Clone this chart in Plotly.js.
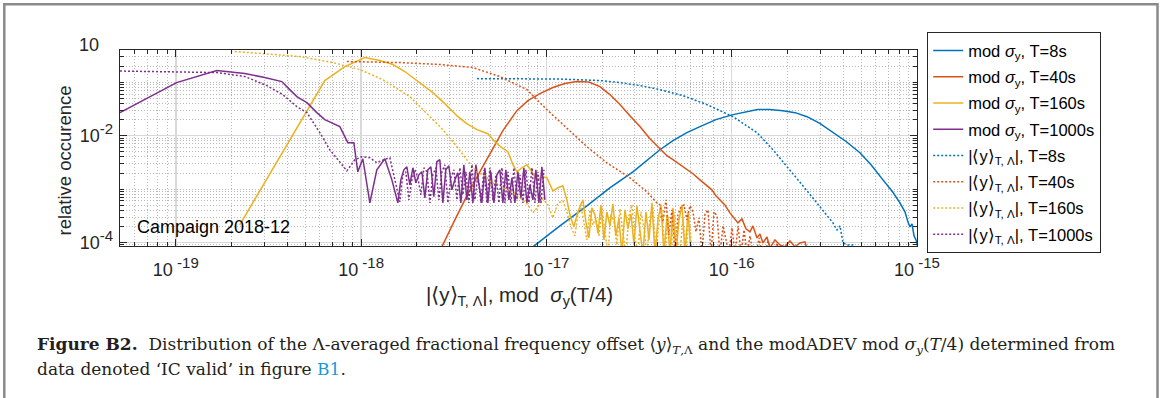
<!DOCTYPE html>
<html><head><meta charset="utf-8">
<script src="https://cdn.plot.ly/plotly-3.0.1.min.js"></script>
<style>html,body{margin:0;padding:0;background:#fff;} #chart{width:1163px;height:398px;}</style>
</head><body><div id="chart"></div>
<script>
// ---- data ----
const seriesNames = [
  'mod <i>σ</i><sub>y</sub>, T=8s', 'mod <i>σ</i><sub>y</sub>, T=40s',
  'mod <i>σ</i><sub>y</sub>, T=160s', 'mod <i>σ</i><sub>y</sub>, T=1000s',
  '|⟨y⟩<sub>T, Λ</sub>|, T=8s', '|⟨y⟩<sub>T, Λ</sub>|, T=40s',
  '|⟨y⟩<sub>T, Λ</sub>|, T=160s', '|⟨y⟩<sub>T, Λ</sub>|, T=1000s'
];
const xTickVals = [1e-19, 1e-18, 1e-17, 1e-16, 1e-15];
const xTickExp = ['-19', '-18', '-17', '-16', '-15'];
const yTickVals = [1e-4, 1e-2];
const yTickExp = ['-4', '-2'];

// mod sigma_y, T=8s
const xSig8 = [7.85e-18, 8.45e-18, 1.183e-17, 1.654e-17, 2.20e-17, 2.93e-17, 4.10e-17, 4.82e-17, 5.73e-17, 6.74e-17, 8.22e-17, 1.016e-16, 1.20e-16, 1.38e-16, 1.60e-16, 1.89e-16, 2.20e-16, 2.55e-16, 2.99e-16, 3.52e-16, 4.16e-16, 4.92e-16, 5.65e-16, 6.55e-16, 7.38e-16, 8.09e-16, 8.61e-16, 8.94e-16, 9.17e-16, 9.40e-16, 9.64e-16, 9.88e-16, 1.02e-15];
const ySig8 = [6.8e-5, 8.3e-5, 2.05e-4, 4.86e-4, 1.058e-3, 2.11e-3, 5.46e-3, 8.1e-3, 0.0114, 0.0148, 0.0200, 0.0248, 0.0282, 0.0308, 0.0308, 0.0294, 0.0270, 0.0227, 0.0170, 0.0114, 0.0077, 0.0048, 2.86e-3, 1.49e-3, 8.9e-4, 5.53e-4, 3.75e-4, 2.43e-4, 1.96e-4, 2.23e-4, 1.33e-4, 1.12e-4, 7.3e-5];

// mod sigma_y, T=40s
const xSig40 = [2.564e-18, 2.729e-18, 3.207e-18, 3.722e-18, 4.375e-18, 5.143e-18, 5.824e-18, 6.93e-18, 7.95e-18, 9.22e-18, 1.084e-17, 1.258e-17, 1.461e-17, 1.696e-17, 1.945e-17, 2.20e-17, 2.493e-17, 2.823e-17, 3.197e-17, 3.621e-17, 3.853e-17, 4.10e-17, 4.47e-17, 4.82e-17, 5.256e-17, 5.734e-17, 6.18e-17, 6.74e-17, 7.35e-17, 7.82e-17, 8.22e-17, 8.64e-17, 9.19e-17, 9.78e-17, 1.041e-16, 1.081e-16, 1.136e-16, 1.194e-16, 1.255e-16, 1.302e-16, 1.369e-16, 1.420e-16, 1.474e-16, 1.550e-16, 1.609e-16, 1.712e-16, 1.822e-16, 1.939e-16, 2.063e-16, 2.195e-16, 2.336e-16, 2.485e-16, 2.58e-16];
const ySig40 = [6.66e-5, 8.31e-5, 2.65e-4, 7.49e-4, 2.11e-3, 5.95e-3, 0.01241, 0.0294, 0.0454, 0.0614, 0.0796, 0.0945, 0.1031, 0.1009, 0.0830, 0.0588, 0.0382, 0.0237, 0.0148, 0.00879, 0.00708, 0.00570, 0.00422, 0.00355, 0.00286, 0.00230, 0.00194, 0.00149, 0.00115, 0.00097, 7.49e-4, 6.30e-4, 5.07e-4, 3.59e-4, 2.77e-4, 2.33e-4, 2.77e-4, 1.80e-4, 1.58e-4, 2.05e-4, 1.22e-4, 1.45e-4, 9.83e-5, 1.27e-4, 7.92e-5, 1.12e-4, 9.02e-5, 8.31e-5, 1.07e-4, 8.31e-5, 9.83e-5, 1.03e-4, 6.66e-5];

// mod sigma_y, T=160s
const xSig160 = [2.215e-19, 2.84e-19, 3.78e-19, 5.03e-19, 6.37e-19, 8.17e-19, 1.048e-18, 1.262e-18, 1.484e-18, 1.722e-18, 1.903e-18, 2.154e-18, 2.44e-18, 2.83e-18, 3.33e-18, 3.72e-18, 4.22e-18, 4.83e-18, 5.27e-18, 5.75e-18, 6.20e-18, 6.60e-18, 6.93e-18, 7.38e-18, 7.85e-18, 8.35e-18, 8.89e-18, 9.46e-18, 1.006e-17, 1.084e-17, 1.154e-17, 1.227e-17, 1.29e-17, 1.34e-17, 1.407e-17, 1.479e-17,
  1.574e-17, 1.634e-17, 1.696e-17, 1.760e-17, 1.827e-17, 1.897e-17, 1.969e-17, 2.044e-17, 2.121e-17, 2.202e-17, 2.286e-17, 2.373e-17, 2.463e-17, 2.557e-17, 2.654e-17, 2.755e-17, 2.859e-17, 2.968e-17, 3.081e-17, 3.198e-17, 3.320e-17, 3.446e-17, 3.577e-17, 3.713e-17, 3.854e-17, 4.001e-17, 4.153e-17, 4.311e-17, 4.475e-17, 4.645e-17, 4.822e-17, 5.005e-17, 5.195e-17, 5.393e-17, 5.598e-17, 5.811e-17, 6.032e-17, 6.261e-17];
const ySig160 = [2.14e-4, 9.29e-4, 5.01e-3, 0.0270, 0.1077, 0.197, 0.2906, 0.2553, 0.215, 0.159, 0.1225, 0.0905, 0.0641, 0.0398, 0.0227, 0.0168, 0.0130, 0.0109, 0.00772, 0.00595, 5.01e-3, 2.86e-3, 2.11e-3, 2.51e-3, 2.86e-3, 2.11e-3, 1.49e-3, 1.70e-3, 1.63e-3, 9.29e-4, 1.058e-3, 1.15e-3, 6.30e-4, 3.30e-4, 1.96e-4, 3.75e-4,
  6.30e-4, 2.43e-4, 1.22e-4, 4.46e-4, 3.30e-4, 1.51e-4, 5.07e-4, 1.12e-4, 3.75e-4, 2.05e-4, 5.30e-4, 1.33e-4, 2.89e-4, 6.0e-5, 4.09e-4, 1.80e-4, 3.44e-4, 9.42e-5, 4.86e-4, 1.65e-4, 6.0e-5, 3.75e-4, 1.12e-4, 5.53e-4, 6.0e-5, 2.65e-4, 5.07e-4, 6.0e-5, 3.30e-4, 6.0e-5, 4.46e-4, 6.0e-5, 2.65e-4, 5.07e-4, 6.0e-5, 3.75e-4, 6.0e-5, 6.0e-5];

// mod sigma_y, T=1000s
const xSig1000 = [5.0e-20, 7.24e-20, 1.01e-19, 1.665e-19, 2.358e-19, 3.02e-19, 3.735e-19, 4.12e-19, 4.50e-19, 5.10e-19, 5.77e-19, 6.37e-19, 7.68e-19, 8.48e-19, 9.14e-19, 9.60e-19, 1.022e-18, 1.115e-18, 1.216e-18, 1.343e-18, 1.466e-18,
  1.579e-18, 1.639e-18, 1.701e-18, 1.766e-18, 1.833e-18, 1.903e-18, 1.975e-18, 2.050e-18, 2.128e-18, 2.209e-18, 2.293e-18, 2.380e-18, 2.470e-18, 2.564e-18, 2.661e-18, 2.762e-18, 2.867e-18, 2.976e-18, 3.089e-18, 3.207e-18, 3.329e-18, 3.455e-18, 3.586e-18, 3.722e-18, 3.864e-18, 4.011e-18, 4.163e-18, 4.321e-18, 4.485e-18, 4.656e-18, 4.833e-18, 5.016e-18, 5.207e-18, 5.405e-18, 5.610e-18, 5.823e-18, 6.045e-18, 6.274e-18, 6.513e-18, 6.760e-18, 7.017e-18, 7.284e-18, 7.560e-18, 7.848e-18, 8.146e-18, 8.455e-18, 8.776e-18, 9.110e-18, 9.456e-18, 9.815e-18];
const ySig1000 = [0.0270, 0.0539, 0.0986, 0.166, 0.146, 0.1225, 0.1031, 0.0729, 0.0539, 0.0416, 0.0270, 0.0200, 0.0148, 0.00739, 0.00739, 2.11e-3, 3.70e-3, 5.53e-4, 2.30e-3, 3.70e-3, 1.49e-3,
  5.53e-4, 1.49e-3, 2.30e-3, 2.62e-3, 1.20e-3, 2.51e-3, 1.31e-3, 1.85e-3, 2.11e-3, 6.87e-4, 2.30e-3, 2.62e-3, 7.18e-4, 3.25e-3, 3.55e-3, 5.53e-4, 2.30e-3, 2.74e-3, 9.7e-4, 1.49e-3, 2.02e-3, 5.53e-4, 2.86e-3, 6.30e-4, 2.11e-3, 5.53e-4, 2.86e-3, 1.20e-3, 5.53e-4, 2.51e-3, 5.53e-4, 2.11e-3, 5.53e-4, 1.85e-3, 2.30e-3, 5.53e-4, 2.30e-3, 6.30e-4, 1.63e-3, 5.53e-4, 2.11e-3, 6.87e-4, 2.51e-3, 5.53e-4, 1.20e-3, 6.30e-4, 2.30e-3, 5.53e-4, 2.62e-3, 6.30e-4];

// |<y>_{T,Lambda}|, T=8s
const xAvg8 = [4.22e-18, 7.19e-18, 1.183e-17, 1.945e-17, 2.49e-17, 3.20e-17, 4.10e-17, 5.46e-17, 7.35e-17, 1.016e-16, 1.369e-16, 1.67e-16, 2.06e-16, 2.55e-16, 2.995e-16, 3.52e-16, 3.70e-16, 3.84e-16, 3.99e-16, 4.19e-16, 4.51e-16, 4.69e-16];
const yAvg8 = [0.117, 0.117, 0.1148, 0.1077, 0.0986, 0.0867, 0.0729, 0.0563, 0.0382, 0.0227, 0.0114, 5.46e-3, 2.30e-3, 9.29e-4, 4.66e-4, 2.33e-4, 1.72e-4, 2.05e-4, 9.83e-5, 9.02e-5, 9.02e-5, 6.66e-5];

// |<y>_{T,Lambda}|, T=40s
const xAvg40 = [8.38e-19, 1.115e-18, 1.619e-18, 2.66e-18, 4.01e-18, 5.61e-18, 6.60e-18, 7.85e-18, 1.006e-17, 1.29e-17, 1.654e-17, 2.12e-17, 2.823e-17, 3.49e-17, 3.95e-17,
  4.100e-17, 4.256e-17, 4.418e-17, 4.586e-17, 4.760e-17, 4.941e-17, 5.129e-17, 5.324e-17, 5.526e-17, 5.736e-17, 5.954e-17, 6.181e-17, 6.416e-17, 6.660e-17, 6.913e-17, 7.176e-17, 7.449e-17, 7.732e-17, 8.026e-17, 8.331e-17, 8.648e-17, 8.977e-17, 9.318e-17, 9.672e-17, 1.004e-16, 1.042e-16, 1.082e-16, 1.123e-16, 1.166e-16, 1.210e-16, 1.256e-16, 1.304e-16, 1.353e-16, 1.405e-16, 1.458e-16, 1.513e-16, 1.571e-16, 1.631e-16, 1.693e-16, 1.757e-16, 1.824e-16, 1.893e-16, 1.965e-16, 2.040e-16, 2.117e-16, 2.196e-16];
const yAvg40 = [0.244, 0.238, 0.234, 0.215, 0.189, 0.128, 0.0986, 0.0729, 0.0308, 0.0141, 6.22e-3, 3.11e-3, 1.63e-3, 8.89e-4, 5.53e-4,
  5.07e-4, 2.43e-4, 6.30e-4, 1.39e-4, 4.09e-4, 6.0e-5, 3.30e-4, 4.66e-4, 5.07e-4, 2.65e-4, 4.86e-4, 3.75e-4, 1.58e-4, 2.89e-4, 6.0e-5, 3.44e-4, 4.09e-4, 6.0e-5, 3.75e-4, 3.16e-4, 6.0e-5, 2.05e-4, 1.12e-4, 6.0e-5, 1.88e-4, 6.0e-5, 2.05e-4, 6.0e-5, 1.72e-4, 6.0e-5, 1.33e-4, 6.0e-5, 6.0e-5, 1.22e-4, 6.0e-5, 6.0e-5, 1.07e-4, 6.0e-5, 6.0e-5, 9.83e-5, 6.0e-5, 6.0e-5, 9.42e-5, 6.0e-5, 6.0e-5, 6.0e-5];

// |<y>_{T,Lambda}|, T=160s
const xAvg160 = [2.083e-19, 2.84e-19, 4.67e-19, 7.04e-19, 9.85e-19, 1.31e-18, 1.832e-18, 2.44e-18, 2.76e-18, 3.29e-18, 3.72e-18, 4.22e-18, 4.656e-18, 5.08e-18, 5.61e-18, 6.045e-18, 6.513e-18, 7.017e-18, 7.47e-18, 7.95e-18, 8.455e-18, 9.0e-18, 9.57e-18, 1.019e-17, 1.084e-17, 1.154e-17, 1.227e-17, 1.29e-17, 1.356e-17,
  1.425e-17, 1.479e-17, 1.535e-17, 1.594e-17, 1.654e-17, 1.717e-17, 1.782e-17, 1.850e-17, 1.920e-17, 1.993e-17, 2.069e-17, 2.148e-17, 2.229e-17, 2.314e-17, 2.402e-17, 2.493e-17, 2.588e-17, 2.686e-17, 2.788e-17, 2.894e-17, 3.004e-17, 3.118e-17, 3.237e-17, 3.360e-17, 3.488e-17, 3.620e-17, 3.758e-17, 3.901e-17, 4.049e-17, 4.203e-17, 4.362e-17, 4.528e-17, 4.700e-17, 4.879e-17, 5.064e-17, 5.257e-17, 5.456e-17, 5.664e-17, 5.879e-17, 6.102e-17, 6.334e-17];
const yAvg160 = [0.377, 0.3455, 0.303, 0.234, 0.173, 0.112, 0.0539, 0.0200, 0.0130, 6.22e-3, 3.55e-3, 2.11e-3, 1.78e-3, 1.31e-3, 1.20e-3, 9.7e-4, 8.89e-4, 7.18e-4, 6.30e-4, 5.07e-4, 3.59e-4, 4.66e-4, 6.58e-4, 5.07e-4, 2.89e-4, 5.53e-4, 6.03e-4, 3.75e-4, 1.96e-4,
  1.33e-4, 3.30e-4, 5.07e-4, 2.43e-4, 1.12e-4, 4.09e-4, 2.14e-4, 2.89e-4, 1.33e-4, 4.46e-4, 1.72e-4, 6.0e-5, 3.44e-4, 2.43e-4, 9.02e-5, 4.27e-4, 1.51e-4, 6.0e-5, 3.16e-4, 5.07e-4, 1.22e-4, 6.0e-5, 3.75e-4, 1.88e-4, 6.0e-5, 2.89e-4, 4.66e-4, 6.0e-5, 2.33e-4, 4.09e-4, 6.0e-5, 3.16e-4, 6.0e-5, 3.75e-4, 1.12e-4, 6.0e-5, 2.89e-4, 6.0e-5, 3.44e-4, 6.0e-5, 6.0e-5];

// |<y>_{T,Lambda}|, T=1000s
const xAvg1000 = [5.0e-20, 1.01e-19, 1.665e-19, 2.358e-19, 3.10e-19, 3.78e-19, 4.50e-19, 5.10e-19, 5.49e-19, 5.99e-19, 6.78e-19, 7.68e-19, 8.38e-19, 9.25e-19, 1.009e-18, 1.115e-18, 1.216e-18, 1.327e-18, 1.430e-18,
  1.619e-18, 1.680e-18, 1.744e-18, 1.811e-18, 1.879e-18, 1.951e-18, 2.025e-18, 2.102e-18, 2.182e-18, 2.265e-18, 2.351e-18, 2.440e-18, 2.533e-18, 2.629e-18, 2.729e-18, 2.833e-18, 2.941e-18, 3.052e-18, 3.168e-18, 3.289e-18, 3.414e-18, 3.543e-18, 3.678e-18, 3.818e-18, 3.963e-18, 4.114e-18, 4.270e-18, 4.432e-18, 4.601e-18, 4.776e-18, 4.957e-18, 5.146e-18, 5.341e-18, 5.544e-18, 5.755e-18, 5.974e-18, 6.201e-18, 6.436e-18, 6.681e-18, 6.935e-18, 7.198e-18, 7.472e-18, 7.756e-18, 8.050e-18, 8.356e-18, 8.674e-18, 9.003e-18, 9.346e-18, 9.701e-18];
const yAvg1000 = [0.1622, 0.159, 0.152, 0.128, 0.0867, 0.0588, 0.0350, 0.0270, 0.0183, 0.0114, 5.46e-3, 3.11e-3, 2.20e-3, 3.55e-3, 4.04e-3, 3.87e-3, 3.11e-3, 3.55e-3, 3.87e-3,
  5.78e-4, 1.85e-3, 2.11e-3, 6.30e-4, 1.49e-3, 2.30e-3, 1.63e-3, 7.82e-4, 2.51e-3, 2.11e-3, 5.53e-4, 1.85e-3, 2.51e-3, 6.30e-4, 2.11e-3, 2.86e-3, 5.53e-4, 1.63e-3, 2.30e-3, 6.30e-4, 2.51e-3, 7.82e-4, 2.11e-3, 5.53e-4, 2.86e-3, 6.30e-4, 1.85e-3, 5.53e-4, 2.30e-3, 5.53e-4, 2.51e-3, 6.30e-4, 1.85e-3, 5.53e-4, 2.51e-3, 5.53e-4, 2.11e-3, 5.53e-4, 2.51e-3, 6.30e-4, 1.85e-3, 5.53e-4, 2.30e-3, 5.53e-4, 2.51e-3, 5.53e-4, 2.11e-3, 5.53e-4, 2.30e-3];

// ---- styling ----
const colors = ['#0072BD', '#D95319', '#EDB120', '#7E2F8E'];
const xs = [xSig8, xSig40, xSig160, xSig1000, xAvg8, xAvg40, xAvg160, xAvg1000];
const ys = [ySig8, ySig40, ySig160, ySig1000, yAvg8, yAvg40, yAvg160, yAvg1000];
const traces = xs.map((x, i) => ({
  type: 'scatter', mode: 'lines', x: x, y: ys[i], name: seriesNames[i],
  legendgroup: 'g' + i,
  line: {color: colors[i % 4], width: 1.5, dash: i < 4 ? 'solid' : '2px,2px'}
}));

function logMinor(e0, e1, skip) {
  const v = [];
  for (let e = e0; e <= e1; e++) for (let k = 1; k <= 9; k++) {
    if (k === 1 && skip.indexOf(e) >= 0) continue;
    v.push(k * Math.pow(10, e));
  }
  return v;
}
const xLabel = e => '10<sup><span style="font-size:15px"> ' + e + '</span></sup>';
const yLabel = e => '10<sup><span style="font-size:15px">' + e + '</span></sup>';
const font = 'Liberation Sans, Arial, Helvetica, sans-serif';
const serif = 'DejaVu Serif, Liberation Serif, serif';
const ink = '#262626';
const W = 797, H = 196, L = 120, T = 50;
const px = v => (v - L) / W;
const py = v => (T + H - v) / H;

const axisCommon = {
  type: 'log', showline: true, linecolor: ink, linewidth: 1.3, mirror: 'allticks',
  ticks: 'inside', ticklen: 7, tickwidth: 1, tickcolor: ink, tickmode: 'array',
  showgrid: true, gridcolor: '#d9d9d9', gridwidth: 1.5, zeroline: false,
  tickfont: {family: font, size: 18, color: ink}
};
const minorCommon = {tickmode: 'array', ticks: 'inside', ticklen: 4, tickcolor: ink, tickwidth: 1,
  showgrid: true, gridcolor: '#b8b8b8', griddash: '1px,2px', gridwidth: 1};
const layout = {
  width: 1163, height: 398,
  margin: {l: L, r: 1163 - L - W, t: T, b: 398 - T - H},
  paper_bgcolor: '#fff', plot_bgcolor: '#fff',
  showlegend: true,
  xaxis: Object.assign({}, axisCommon, {
    range: [Math.log10(5e-20), -15], tickvals: xTickVals, ticktext: xTickExp.map(xLabel), ticklabelstandoff: 7,
    minor: Object.assign({}, minorCommon, {tickvals: logMinor(-20, -16, [-20, -19, -18, -17, -16])})
  }),
  yaxis: Object.assign({}, axisCommon, {
    range: [-4.065, -0.396], tickvals: yTickVals, ticktext: yTickExp.map(yLabel), ticklabelstandoff: 2,
    minor: Object.assign({}, minorCommon, {tickvals: logMinor(-5, 0, [-4, -2])})
  }),
  legend: {
    x: px(927), y: py(32), xanchor: 'left', yanchor: 'top', maxheight: 390,
    bgcolor: '#fff', bordercolor: ink, borderwidth: 1.2,
    font: {family: font, size: 16.5, color: '#000'},
    tracegroupgap: 1.8, itemwidth: 30
  },
  shapes: [{
    type: 'rect', xref: 'paper', yref: 'paper',
    x0: px(4.3), x1: px(1157.5), y0: py(420), y1: py(4.3),
    line: {color: '#8a8a8a', width: 2.5}, fillcolor: 'rgba(0,0,0,0)', layer: 'below'
  }],
  annotations: [
    {text: '10', xref: 'paper', yref: 'paper', x: px(77), y: py(45), xanchor: 'left', yanchor: 'middle',
     showarrow: false, font: {family: font, size: 18, color: ink}},
    {text: 'relative occurence', xref: 'paper', yref: 'paper', x: px(63.5), y: py(161), textangle: -90,
     xanchor: 'center', yanchor: 'middle', showarrow: false, font: {family: font, size: 18.5, color: ink}},
    {text: '|⟨y⟩<sub>T, Λ</sub>|, mod  <i>σ</i><sub>y</sub>(T/4)', xref: 'paper', yref: 'paper', x: px(519), y: py(296),
     xanchor: 'center', yanchor: 'middle', showarrow: false, font: {family: font, size: 20.5, color: ink}},
    {text: 'Campaign 2018-12', xref: 'paper', yref: 'paper', x: px(135), y: py(227), xanchor: 'left', yanchor: 'middle',
     showarrow: false, font: {family: font, size: 18, color: '#000'}},
    {text: '<b>Figure B2.</b>  Distribution of the Λ-averaged fractional frequency offset ⟨<i>y</i>⟩<sub><i>T</i>,Λ</sub> and the modADEV mod <i>σ<sub>y</sub></i>(<i>T</i>/4) determined from',
     xref: 'paper', yref: 'paper', x: px(35), y: py(345), xanchor: 'left', yanchor: 'middle',
     showarrow: false, font: {family: serif, size: 17, color: '#231f20'}},
    {text: 'data denoted ‘IC valid’ in figure <span style="color:#1a9ad6">B1</span>.',
     xref: 'paper', yref: 'paper', x: px(35), y: py(369), xanchor: 'left', yanchor: 'middle',
     showarrow: false, font: {family: serif, size: 17, color: '#231f20'}}
  ]
};
Plotly.newPlot('chart', traces, layout, {displayModeBar: false, staticPlot: true});
</script>
</body></html>
